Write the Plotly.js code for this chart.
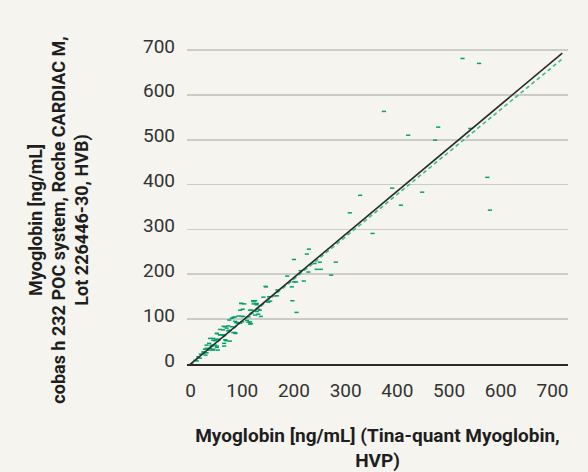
<!DOCTYPE html>
<html>
<head>
<meta charset="utf-8">
<script src="https://cdn.plot.ly/plotly-3.0.1.min.js"></script>
<style>html,body{margin:0;padding:0;background:#f5f4ee;}#chart{width:588px;height:472px;}</style>
</head>
<body>
<div id="chart"></div>
<script>
// Reference method (Tina-quant Myoglobin, HVP), ng/mL
const refValues = [
  526, 558, 374, 479, 421, 473, 541, 574, 579, 448, 407, 390, 328, 308, 352,
  229, 225, 200, 281, 250, 240, 244, 252, 228, 213, 272, 219, 187, 200, 204, 196,
  146, 168, 167, 197, 205, 141, 152, 121, 150, 128, 98, 134, 118, 101, 131, 136,
  99, 102, 112, 83, 115, 112, 117, 75, 86, 89, 92, 80, 64, 70, 75, 83, 86,
  51, 57, 64, 38, 44, 50, 69, 76, 31, 41, 47, 51, 65, 28, 38, 44, 25, 31, 20, 15, 9,
  98, 104, 122, 128, 96, 131, 118, 125, 80, 86, 93, 109, 89, 96, 100, 115,
  67, 73, 57, 63, 73, 87, 51, 57, 65, 44, 54, 47, 67, 65, 36, 41, 51,
  31, 38, 44, 53, 25, 29, 18, 12, 2, 145, 163, 151, 154, 125, 122, 115, 128
];
// Candidate method (cobas h 232 POC system, Roche CARDIAC M), ng/mL
const pocValues = [
  681, 670, 563, 528, 510, 499, 525, 416, 343, 383, 354, 392, 376, 337, 291,
  256, 245, 233, 227, 227, 224, 211, 211, 205, 208, 198, 185, 196, 183, 183, 172,
  172, 165, 152, 141, 115, 149, 150, 141, 138, 132, 135, 120, 120, 122, 111, 106,
  106, 106, 105, 104, 94, 93, 90, 98, 95, 93, 91, 83, 84, 80, 75, 70, 70,
  68, 65, 64, 57, 53, 55, 52, 51, 42, 40, 42, 37, 40, 33, 35, 31, 27, 25, 22, 16, 8,
  135, 134, 139, 135, 120, 122, 113, 109, 102, 105, 107, 97, 92, 91, 94, 89,
  83, 85, 77, 76, 74, 68, 68, 65, 65, 57, 55, 52, 54, 46, 46, 42, 40,
  35, 31, 33, 31, 24, 20, 13, 7, 0, 173, 152, 139, 140, 141, 134, 120, 117
];
// Fitted lines (end points)
const lineX = [0, 719];
const solidLineY = [0, 693];
const dashedLineX = [0, 721];
const dashedLineY = [0, 682];
const tickValues = [0, 100, 200, 300, 400, 500, 600, 700];
const tickLabels = ['0', '100', '200', '300', '400', '500', '600', '700'];

const xTitle = 'Myoglobin [ng/mL] (Tina-quant Myoglobin,<br>HVP)';
const yTitle = 'Myoglobin [ng/mL]<br>cobas h 232 POC system, Roche CARDIAC M,<br>Lot 226446-30, HVB)';

const green = '#05a06c';
const traces = [
  {
    x: refValues, y: pocValues, type: 'scatter', mode: 'markers',
    marker: {symbol: 'line-ew', size: 3, color: green, line: {color: green, width: 1.5}},
    hoverinfo: 'x+y', showlegend: false
  },
  {
    x: dashedLineX, y: dashedLineY, type: 'scatter', mode: 'lines',
    line: {color: '#3cbd8b', width: 1.6, dash: '4px,3px'}, showlegend: false
  },
  {
    x: lineX, y: solidLineY, type: 'scatter', mode: 'lines',
    line: {color: '#2a2a2a', width: 1.6}, showlegend: false
  }
];

const tickFont = {family: 'Roboto, sans-serif', size: 19, color: '#333333'};
const titleFont = {family: 'Roboto, sans-serif', size: 19, color: '#1e1e1e', weight: 'bold'};
const yTitleFont = {family: 'Roboto, sans-serif', size: 18, color: '#1e1e1e', weight: 'bold'};

const layout = {
  width: 588, height: 472,
  paper_bgcolor: '#f5f4ee', plot_bgcolor: '#f5f4ee',
  margin: {l: 187, r: 20, t: 30, b: 108},
  showlegend: false,
  xaxis: {
    range: [-6.8, 730], tickmode: 'array', tickvals: tickValues, ticktext: tickLabels,
    showgrid: false, zeroline: false, showline: true, linecolor: '#2a2a2a', linewidth: 1.6,
    ticks: '', tickfont: tickFont, ticklabelstandoff: 9,
    title: {text: xTitle, font: titleFont, standoff: 37}
  },
  yaxis: {
    range: [0, 744.5], tickmode: 'array', tickvals: tickValues, ticktext: tickLabels,
    showgrid: true, gridcolor: '#cbcbcb', gridwidth: 1.8, zeroline: false, showline: false,
    ticks: '', tickfont: tickFont, ticklabelstandoff: 11, ticklabelshift: -4
  },
  annotations: [{
    text: yTitle, textangle: -90, xref: 'paper', yref: 'paper',
    x: -0.337, y: 0.431, xanchor: 'center', yanchor: 'middle',
    showarrow: false, font: yTitleFont, align: 'center'
  }]
};

Plotly.newPlot('chart', traces, layout, {displayModeBar: false, staticPlot: true});
</script>
</body>
</html>
